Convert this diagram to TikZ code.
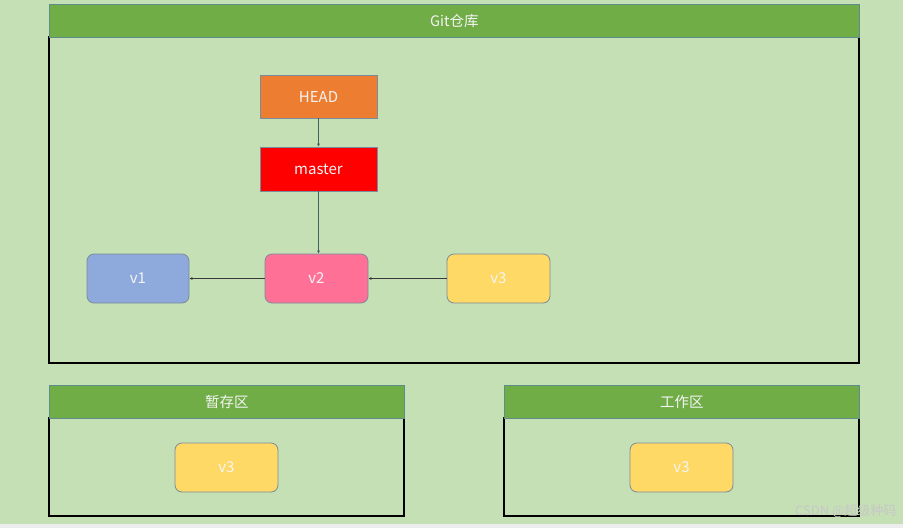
\documentclass[tikz,border=0pt]{standalone}
\usepackage{fontspec}
\setmainfont{Noto Sans CJK SC}
\usetikzlibrary{arrows.meta}
\definecolor{bg}{HTML}{C5E0B4}
\definecolor{hdr}{HTML}{70AD47}
\definecolor{hdrline}{HTML}{5E8C8C}
\definecolor{boxline}{HTML}{7A8B9C}
\definecolor{headc}{HTML}{ED7D31}
\definecolor{masterc}{HTML}{FF0000}
\definecolor{vone}{HTML}{8EA9DB}
\definecolor{vtwo}{HTML}{FF7096}
\definecolor{vthree}{HTML}{FFD966}
\definecolor{txt}{HTML}{F4F4F4}
\definecolor{arr}{HTML}{3A3A3A}
\begin{document}
\begin{tikzpicture}[x=1pt,y=-1pt,
  hdrbox/.style={draw=hdrline,line width=0.8pt,fill=hdr,text=txt,font=\fontsize{14.5}{16}\selectfont},
  area/.style={draw=black,line width=1.8pt},
  rbox/.style={draw=boxline,line width=0.8pt,rounded corners=7pt,text=txt,font=\fontsize{15}{16}\selectfont},
  sbox/.style={draw=boxline,line width=0.6pt,text=txt,font=\fontsize{15}{16}\selectfont},
  link/.style={draw=arr,line width=0.6pt,-{Latex[length=3pt,width=3pt]}}]
\fill[bg] (0,0) rectangle (903,524);
\fill[black!7] (0,524) rectangle (903,528);
\useasboundingbox (0,0) rectangle (903,528);
% Git repository
\draw[area] (49,37) rectangle (859,363);
\node[hdrbox,minimum width=810pt,minimum height=33pt,anchor=north west] (git) at (49,4) {Git仓库};
% staging
\draw[area] (49,418) rectangle (404,516);
\node[hdrbox,minimum width=355pt,minimum height=33pt,anchor=north west] (stage) at (49,385) {暂存区};
% working
\draw[area] (504,418) rectangle (859,516);
\node[hdrbox,minimum width=355pt,minimum height=33pt,anchor=north west] (work) at (504,385) {工作区};
% nodes
\node[sbox,fill=headc,minimum width=117pt,minimum height=43pt] (head) at (318.5,96.5) {HEAD};
\node[sbox,fill=masterc,minimum width=117pt,minimum height=44pt] (master) at (318.5,169) {master};
\node[rbox,fill=vone,minimum width=102pt,minimum height=49pt] (v1) at (138,278.5) {v1};
\node[rbox,fill=vtwo,minimum width=103pt,minimum height=49pt] (v2) at (316.5,278.5) {v2};
\node[rbox,fill=vthree,minimum width=103pt,minimum height=49pt] (v3) at (498.5,278.5) {v3};
\node[rbox,fill=vthree,minimum width=103pt,minimum height=49pt] (sv3) at (226.5,467.5) {v3};
\node[rbox,fill=vthree,minimum width=103pt,minimum height=49pt] (wv3) at (681.5,467.5) {v3};
% links
\draw[link,draw=hdrline!70!black] (head) -- (master);
\draw[link,draw=hdrline!70!black] (master.south) -- (master.south |- v2.north);
\draw[link] (v2) -- (v1);
\draw[link] (v3) -- (v2);
% watermark
\node[text=black!22,font=\fontsize{13}{14}\selectfont,anchor=east] (wm) at (900,511) {CSDN @超级种码};
\end{tikzpicture}
\end{document}
